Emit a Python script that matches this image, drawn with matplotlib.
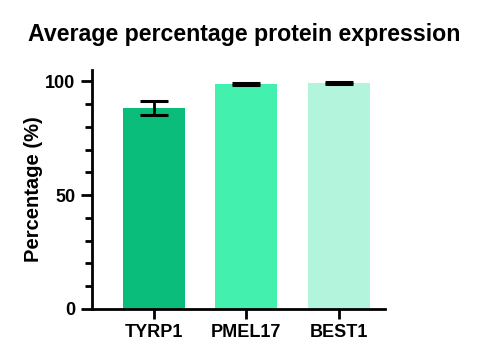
import matplotlib
matplotlib.use("Agg")
import matplotlib.pyplot as plt
from matplotlib.ticker import MultipleLocator

categories = ["TYRP1", "PMEL17", "BEST1"]
means = [88.2, 98.8, 99.1]
errors = [3.2, 0.5, 0.4]
colors = ["#0BBD7A", "#44F0AE", "#B3F5DC"]

plt.rcParams['font.family'] = ['Liberation Sans', 'DejaVu Sans']

fig = plt.figure(figsize=(4.83, 3.6), dpi=100)
ax = fig.add_axes([0.19, 0.142, 0.607, 0.664])

x = list(range(len(categories)))
ax.bar(x, means, width=0.67, color=colors, zorder=2)
ax.errorbar(x, means, yerr=errors, fmt='none', ecolor='black',
            elinewidth=2, capsize=10, capthick=2.2, zorder=3)

ax.set_xlim(-0.67, 2.5)
ax.set_ylim(0, 105)
ax.yaxis.set_major_locator(MultipleLocator(50))
ax.yaxis.set_minor_locator(MultipleLocator(10))
ax.set_xticks(x)
ax.set_xticklabels(categories, fontweight='bold', fontsize=13)
for lbl in ax.get_yticklabels():
    lbl.set_fontweight('bold')
    lbl.set_fontsize(13)

for s in ['top', 'right']:
    ax.spines[s].set_visible(False)
for s in ['left', 'bottom']:
    ax.spines[s].set_linewidth(2)

ax.tick_params(axis='y', which='major', length=8, width=2, labelsize=13, pad=4)
ax.tick_params(axis='y', which='minor', length=5, width=2)
ax.tick_params(axis='x', which='major', length=7, width=2, labelsize=13, pad=4)

ax.set_ylabel("Percentage (%)", fontweight='bold', fontsize=14.5, labelpad=1)
fig.text(0.505, 0.905, "Average percentage protein expression", ha='center',
         va='center', fontweight='bold', fontsize=16.7)

fig.savefig("out.png", dpi=100)
